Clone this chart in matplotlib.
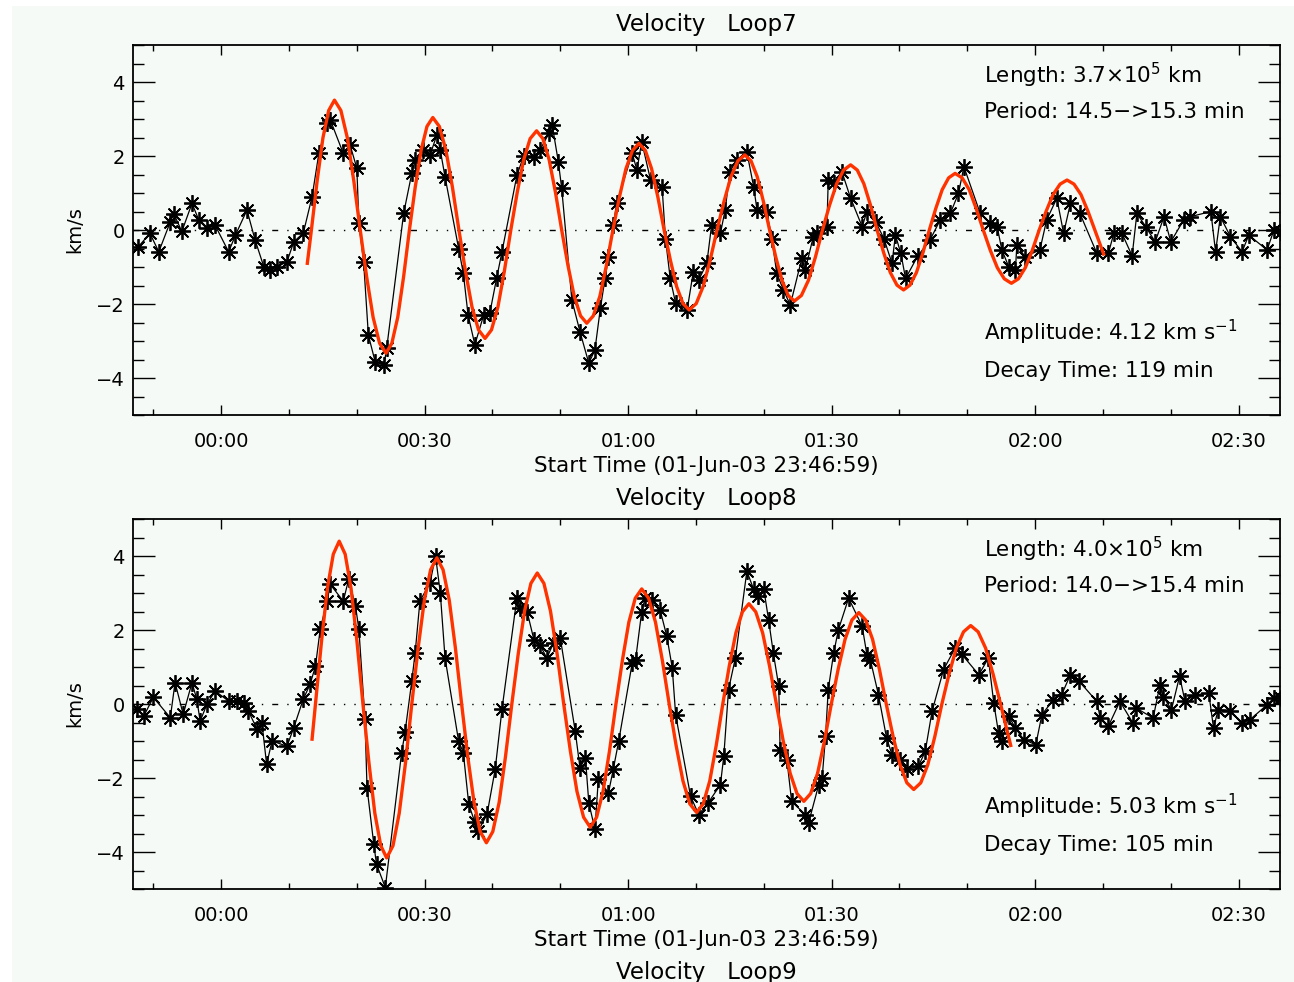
import matplotlib.pyplot as plt
import matplotlib.patches as mpatches
from matplotlib.ticker import MultipleLocator, FixedLocator, FixedFormatter

# time in minutes after 00:00 (02-Jun-03), velocity in km/s
t_loop7 = [-12.2, -10.5, -9.2, -7.5, -7.0, -5.8, -4.3, -3.3, -2.1, -0.9, 1.1, 2.1, 3.8, 5.0, 6.3, 7.2, 8.2,
           9.7, 10.7, 12.1, 13.4, 14.4, 15.6, 16.1, 18.0, 19.0, 20.0, 20.3, 21.0, 21.7, 22.7, 24.0, 24.4,
           26.9, 28.1, 28.6, 29.8, 30.8, 31.8, 32.3, 33.0, 35.0, 35.7, 36.4, 37.4, 38.7, 39.6, 40.6, 41.4,
           43.6, 44.6, 46.1, 47.0, 48.3, 48.8, 49.7, 50.2, 51.7, 52.9, 54.2, 55.1, 55.9, 56.6, 57.1, 57.8,
           58.3, 60.6, 61.3, 62.0, 63.3, 65.0, 65.5, 66.2, 67.0, 68.7, 69.6, 70.4, 71.6, 72.3, 73.6, 74.3,
           75.0, 76.0, 77.5, 78.5, 79.0, 80.4, 81.2, 81.9, 82.9, 83.9, 85.6, 86.1, 87.3, 87.8, 89.3, 89.5,
           90.3, 91.5, 92.8, 94.5, 95.2, 96.5, 97.7, 98.9, 99.4, 100.2, 100.9, 102.7, 104.5, 106.0, 107.5,
           108.7, 109.5, 111.9, 113.4, 114.4, 115.1, 116.1, 117.1, 117.3, 118.5, 120.7, 121.7, 123.2, 124.2,
           125.2, 126.6, 129.1, 130.8, 131.6, 132.8, 134.3, 135.0, 136.3, 137.7, 139.0, 140.0, 141.9, 142.9,
           145.9, 146.6, 147.3, 148.8, 150.5, 151.5, 154.2, 155.2, 156.2]
v_loop7 = [-0.45, -0.09, -0.59, 0.22, 0.44, -0.04, 0.72, 0.27, 0.05, 0.13, -0.59, -0.14, 0.54, -0.27, -1.0,
           -1.08, -1.0, -0.86, -0.32, -0.09, 0.9, 2.07, 2.88, 2.97, 2.07, 2.3, 1.67, 0.2, -0.86, -2.84, -3.56,
           -3.65, -3.2, 0.45, 1.53, 1.9, 2.16, 2.03, 2.57, 2.16, 1.44, -0.5, -1.17, -2.3, -3.1, -2.3, -2.25,
           -1.31, -0.59, 1.48, 2.0, 1.98, 2.16, 2.61, 2.84, 1.85, 1.13, -1.89, -2.75, -3.6, -3.24, -2.12,
           -1.31, -0.72, 0.13, 0.72, 2.07, 1.62, 2.39, 1.35, 1.17, -0.23, -1.31, -1.98, -2.16, -1.13, -1.35,
           -0.9, 0.13, -0.09, 0.54, 1.58, 1.89, 2.11, 1.17, 0.54, 0.5, -0.23, -1.17, -1.62, -2.03, -0.77,
           -1.08, -0.18, -0.09, 0.09, 1.35, 1.26, 1.58, 0.86, 0.09, 0.5, 0.22, -0.23, -0.9, -0.14, -0.63,
           -1.31, -0.7, -0.27, 0.27, 0.45, 0.99, 1.71, 0.45, 0.18, 0.09, -0.54, -0.99, -1.08, -0.41, -0.72,
           -0.54, 0.27, 0.86, -0.09, 0.72, 0.45, -0.63, -0.63, -0.09, -0.09, -0.7, 0.45, 0.09, -0.32, 0.36,
           -0.32, 0.27, 0.36, 0.5, -0.59, 0.36, -0.18, -0.59, -0.14, -0.54, 0.0, -0.05]

# red fitted curve
fit_t_loop7 = [12.7, 13.3, 14.15, 15.0, 15.85, 16.7, 17.65, 18.6, 19.55, 20.5, 21.45, 22.4, 23.35, 24.3,
               25.16, 26.03, 26.89, 27.75, 28.61, 29.48, 30.34, 31.2, 32.16, 33.13, 34.09, 35.05, 36.01,
               36.98, 37.94, 38.9, 39.85, 40.8, 41.75, 42.7, 43.65, 44.6, 45.55, 46.5, 47.43, 48.35, 49.28,
               50.2, 51.13, 52.05, 52.98, 53.9, 54.86, 55.83, 56.79, 57.75, 58.71, 59.68, 60.64, 61.6,
               62.53, 63.45, 64.38, 65.3, 66.23, 67.15, 68.08, 69.0, 70.03, 71.05, 72.08, 73.1, 74.13,
               75.15, 76.18, 77.2, 78.11, 79.03, 79.94, 80.85, 81.76, 82.68, 83.59, 84.5, 85.54, 86.58,
               87.61, 88.65, 89.69, 90.73, 91.76, 92.8, 93.78, 94.75, 95.73, 96.7, 97.68, 98.65, 99.63,
               100.6, 101.55, 102.5, 103.45, 104.4, 105.35, 106.3, 107.25, 108.2, 109.24, 110.28, 111.31,
               112.35, 113.39, 114.43, 115.46, 116.5, 117.53, 118.55, 119.58, 120.6, 121.63, 122.65,
               123.68, 124.7, 125.73, 126.75, 127.78, 128.8, 130.1]
fit_v_loop7 = [-0.9, 0.0, 1.33, 2.49, 3.23, 3.51, 3.23, 2.49, 1.33, 0.0, -1.27, -2.36, -3.06, -3.33,
               -3.06, -2.36, -1.27, 0.0, 1.16, 2.16, 2.8, 3.04, 2.8, 2.16, 1.16, 0.0, -1.11,
               -2.08, -2.7, -2.93, -2.7, -2.08, -1.11, 0.0, 1.02, 1.9, 2.47, 2.68, 2.47, 1.9, 1.02,
               0.0, -0.96, -1.79, -2.32, -2.52, -2.32, -1.79, -0.96, 0.0, 0.89, 1.66, 2.15, 2.34,
               2.15, 1.66, 0.89, 0.0, -0.82, -1.53, -1.99, -2.16, -1.99, -1.53, -0.82, 0.0, 0.77,
               1.44, 1.87, 2.03, 1.87, 1.44, 0.77, 0.0, -0.73, -1.36, -1.77, -1.92, -1.77, -1.36,
               -0.73, 0.0, 0.67, 1.25, 1.62, 1.76, 1.62, 1.25, 0.67, 0.0, -0.62, -1.15, -1.49,
               -1.62, -1.49, -1.15, -0.62, 0.0, 0.58, 1.09, 1.41, 1.53, 1.41, 1.09, 0.58,
               0.0, -0.55, -1.02, -1.32, -1.44, -1.32, -1.02, -0.55, 0.0, 0.51, 0.96,
               1.24, 1.35, 1.24, 0.96, 0.51, 0.0, -0.65]

t_loop8 = [-12.4, -11.4, -10.0, -7.5, -6.8, -5.6, -4.3, -3.6, -3.1, -2.1, -0.9, 1.1, 2.3, 3.3, 4.0, 5.3, 6.0,
           6.7, 7.5, 9.7, 10.7, 12.1, 13.1, 13.9, 14.6, 15.6, 16.1, 18.0, 18.8, 19.8, 20.3, 21.2, 21.5, 22.5,
           22.9, 24.2, 26.6, 27.1, 28.1, 28.6, 29.3, 30.8, 31.6, 32.3, 33.0, 35.0, 35.7, 36.5, 37.4, 37.9,
           39.2, 40.4, 41.4, 43.6, 44.1, 45.1, 46.1, 47.0, 48.0, 49.0, 50.0, 52.2, 52.9, 53.7, 54.2, 55.1,
           55.6, 57.1, 57.8, 58.6, 60.6, 61.1, 62.0, 62.5, 63.5, 64.7, 65.7, 66.5, 67.0, 69.2, 70.4, 71.8,
           73.6, 74.1, 74.8, 75.8, 77.5, 78.5, 79.2, 80.0, 80.7, 81.4, 82.2, 82.4, 83.4, 84.1, 86.1, 86.6,
           88.1, 88.6, 89.1, 89.5, 90.3, 91.0, 92.5, 94.5, 95.2, 95.7, 96.9, 98.1, 98.9, 100.1, 101.1, 102.8,
           103.8, 104.8, 106.5, 108.2, 109.2, 111.7, 113.1, 113.9, 114.6, 115.1, 116.1, 117.1, 118.3, 120.1,
           121.0, 122.7, 123.9, 125.2, 126.5, 129.1, 129.6, 130.8, 132.5, 134.4, 134.9, 137.4, 138.4, 138.9,
           140.1, 141.3, 142.1, 143.6, 145.6, 146.3, 147.0, 148.8, 150.5, 151.7, 154.2, 155.2, 156.2]
v_loop8 = [-0.14, -0.32, 0.18, -0.37, 0.58, -0.28, 0.58, 0.13, -0.46, -0.01, 0.35, 0.08, 0.08, 0.04, -0.19,
           -0.68, -0.5, -1.63, -1.0, -1.14, -0.64, 0.13, 0.53, 1.02, 2.02, 2.78, 3.23, 2.78, 3.37, 2.65, 2.02,
           -0.41, -2.26, -3.79, -4.33, -4.96, -1.32, -0.77, 0.62, 1.39, 2.78, 3.28, 4.0, 3.01, 1.25, -1.0,
           -1.32, -2.71, -3.2, -3.43, -2.98, -1.76, -0.14, 2.87, 2.6, 2.5, 1.74, 1.6, 1.24, 1.65, 1.78, -0.74,
           -1.73, -1.46, -2.67, -3.39, -2.04, -2.4, -1.77, -1.01, 1.11, 1.2, 2.5, 2.86, 2.82, 2.55, 1.83, 0.98,
           -0.29, -2.49, -2.99, -2.67, -2.18, -1.41, 0.39, 1.24, 3.59, 3.1, 2.91, 3.1, 2.28, 1.38, 0.48, -1.23,
           -1.5, -2.63, -2.99, -3.21, -2.18, -2.0, -0.87, 0.39, 1.38, 2.01, 2.86, 2.1, 1.33, 1.2, 0.25, -0.92,
           -1.37, -1.5, -1.77, -1.68, -1.28, -0.2, 0.93, 1.51, 1.34, 0.79, 1.24, 0.03, -0.78, -1.0, -0.33,
           -0.65, -0.96, -1.1, -0.29, 0.12, 0.25, 0.79, 0.61, 0.07, -0.38, -0.6, 0.07, -0.51, -0.11, -0.38,
           0.52, 0.2, -0.15, 0.75, 0.07, 0.25, 0.29, -0.65, -0.15, -0.2, -0.51, -0.42, -0.02, 0.16, 0.16]

fit_t_loop8 = [13.4, 13.9, 14.78, 15.65, 16.53, 17.4, 18.28, 19.15, 20.03, 20.9, 21.78, 22.65, 23.53, 24.4,
               25.33, 26.25, 27.18, 28.1, 29.03, 29.95, 30.88, 31.8, 32.71, 33.63, 34.54, 35.45, 36.36,
               37.28, 38.19, 39.1, 40.04, 40.98, 41.91, 42.85, 43.79, 44.73, 45.66, 46.6, 47.58, 48.55,
               49.53, 50.5, 51.48, 52.45, 53.43, 54.4, 55.35, 56.3, 57.25, 58.2, 59.15, 60.1, 61.05, 62.0,
               63.01, 64.03, 65.04, 66.05, 67.06, 68.08, 69.09, 70.1, 71.06, 72.03, 72.99, 73.95, 74.91,
               75.88, 76.84, 77.8, 78.81, 79.83, 80.84, 81.85, 82.86, 83.88, 84.89, 85.9, 86.91, 87.93,
               88.94, 89.95, 90.96, 91.98, 92.99, 94.0, 95.01, 96.03, 97.04, 98.05, 99.06, 100.08, 101.09,
               102.1, 103.14, 104.18, 105.21, 106.25, 107.31, 108.38, 109.44, 110.5, 111.6, 112.7, 113.8,
               114.9, 116.4]
fit_v_loop8 = [-0.95, 0.0, 1.67, 3.12, 4.05, 4.4, 4.05, 3.12, 1.67, 0.0, -1.58, -2.95, -3.83, -4.16,
               -3.83, -2.95, -1.58, 0.0, 1.5, 2.8, 3.63, 3.95, 3.63, 2.8, 1.5, 0.0, -1.43,
               -2.66, -3.45, -3.75, -3.45, -2.66, -1.43, 0.0, 1.35, 2.51, 3.26, 3.54, 3.26, 2.51,
               1.35, 0.0, -1.27, -2.36, -3.06, -3.33, -3.06, -2.36, -1.27, 0.0, 1.18, 2.21, 2.86, 3.11,
               2.86, 2.21, 1.18, 0.0, -1.11, -2.08, -2.7, -2.93, -2.7, -2.08, -1.11, 0.0, 1.03,
               1.92, 2.49, 2.71, 2.49, 1.92, 1.03, 0.0, -1.0, -1.87, -2.42, -2.63, -2.42, -1.87,
               -1.0, 0.0, 0.94, 1.75, 2.27, 2.47, 2.27, 1.75, 0.94, 0.0, -0.88, -1.64, -2.13,
               -2.31, -2.13, -1.64, -0.88, 0.0, 0.81, 1.51, 1.95, 2.12, 1.95, 1.51, 0.81,
               0.0, -1.12]

tick_minutes = [0, 30, 60, 90, 120, 150]
tick_labels = ['00:00', '00:30', '01:00', '01:30', '02:00', '02:30']

W, H = 1294, 982
BG = '#f6faf6'
RED = '#ff3300'


def panel(fig, top, t, v, fit_t, fit_v, title, info):
    # top is pixel row of the upper axes edge
    ax = fig.add_axes([133 / W, 1 - (top + 370) / H, 1147 / W, 370 / H])
    ax.set_facecolor('none')
    ax.axhline(0, color='black', lw=1, linestyle=(0, (4.3, 6.5, 1, 6.5, 1, 6.5, 1, 6.5)), zorder=1)
    ax.plot(t, v, color='black', lw=0.9, marker=(8, 2, 0), ms=12, mew=1.3, zorder=2)
    ax.plot(fit_t, fit_v, color=RED, lw=2.4, zorder=3, solid_joinstyle='round')

    ax.set_xlim(-13.0, 156.1)
    ax.set_ylim(-5, 5)
    ax.xaxis.set_major_locator(FixedLocator(tick_minutes))
    ax.xaxis.set_major_formatter(FixedFormatter(tick_labels))
    ax.xaxis.set_minor_locator(MultipleLocator(10))
    ax.yaxis.set_major_locator(MultipleLocator(2))
    ax.yaxis.set_minor_locator(MultipleLocator(0.5))
    ax.tick_params(axis='both', which='both', direction='in', top=True, right=True,
                   labelsize=14, width=1)
    ax.tick_params(axis='x', which='major', length=7, pad=12)
    ax.tick_params(axis='x', which='minor', length=4)
    ax.tick_params(axis='y', which='major', length=16, pad=6)
    ax.tick_params(axis='y', which='minor', length=8)
    for s in ax.spines.values():
        s.set_linewidth(1.3)

    fig.text(706 / W, 1 - (top - 20) / H, title, ha='center', va='center', fontsize=16.5)
    fig.text(706 / W, 1 - (top + 421) / H, 'Start Time (01-Jun-03 23:46:59)',
             ha='center', va='center', fontsize=15.5)
    fig.text(75 / W, 1 - (top + 185) / H, 'km/s', rotation=90, ha='center', va='center',
             fontsize=14)

    for (txt, y) in zip(info, [0.919, 0.819, 0.222, 0.119]):
        ax.text(0.742, y, txt, transform=ax.transAxes, ha='left', va='center',
                fontsize=15.5, clip_on=False)
    return ax


fig = plt.figure(figsize=(W / 100, H / 100), dpi=100)
fig.patch.set_facecolor('white')
fig.patches.append(mpatches.Rectangle((12 / W, 0), 1, 1 - 6 / H, transform=fig.transFigure,
                                      facecolor=BG, edgecolor='none', zorder=-10))

panel(fig, 45, t_loop7, v_loop7, fit_t_loop7, fit_v_loop7, 'Velocity   Loop7',
      ['Length: 3.7\u00d710$^5$ km', 'Period: 14.5\u2212>15.3 min',
       'Amplitude: 4.12 km s$^{-1}$', 'Decay Time: 119 min'])
panel(fig, 519, t_loop8, v_loop8, fit_t_loop8, fit_v_loop8, 'Velocity   Loop8',
      ['Length: 4.0\u00d710$^5$ km', 'Period: 14.0\u2212>15.4 min',
       'Amplitude: 5.03 km s$^{-1}$', 'Decay Time: 105 min'])

fig.text(706 / W, 1 - 972 / H, 'Velocity   Loop9', ha='center', va='center', fontsize=16.5)

fig.savefig('out.png', dpi=100)
